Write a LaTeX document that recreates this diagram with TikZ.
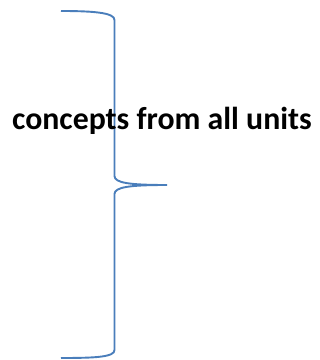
\documentclass[tikz,border=0pt]{standalone}
\usepackage{fontspec}
\setmainfont{Carlito}
\definecolor{braceblue}{RGB}{74,126,187}
\begin{document}
\begin{tikzpicture}[x=1pt,y=1pt,
    bracel/.style={draw=braceblue, line width=1.9pt},
    label/.style={font=\bfseries\fontsize{31.8}{36}\selectfont, inner sep=0pt}]
    \useasboundingbox (0,0) rectangle (320,360);

    % Brace end points
    \coordinate (top) at (61,349);
    \coordinate (tip) at (167,175);
    \coordinate (bottom) at (61,2);

    % Right brace
    \draw[bracel] (top) .. controls (96,349) and (114.5,347) .. (114.5,340)
        -- (114.5,184) .. controls (114.5,177) and (130,175) .. (tip)
        .. controls (130,175) and (114.5,173) .. (114.5,166)
        -- (114.5,10) .. controls (114.5,3) and (96,2) .. (bottom);

    % Label
    \node[label, anchor=base] (concepts) at (162,231) {concepts from all units};
\end{tikzpicture}
\end{document}
